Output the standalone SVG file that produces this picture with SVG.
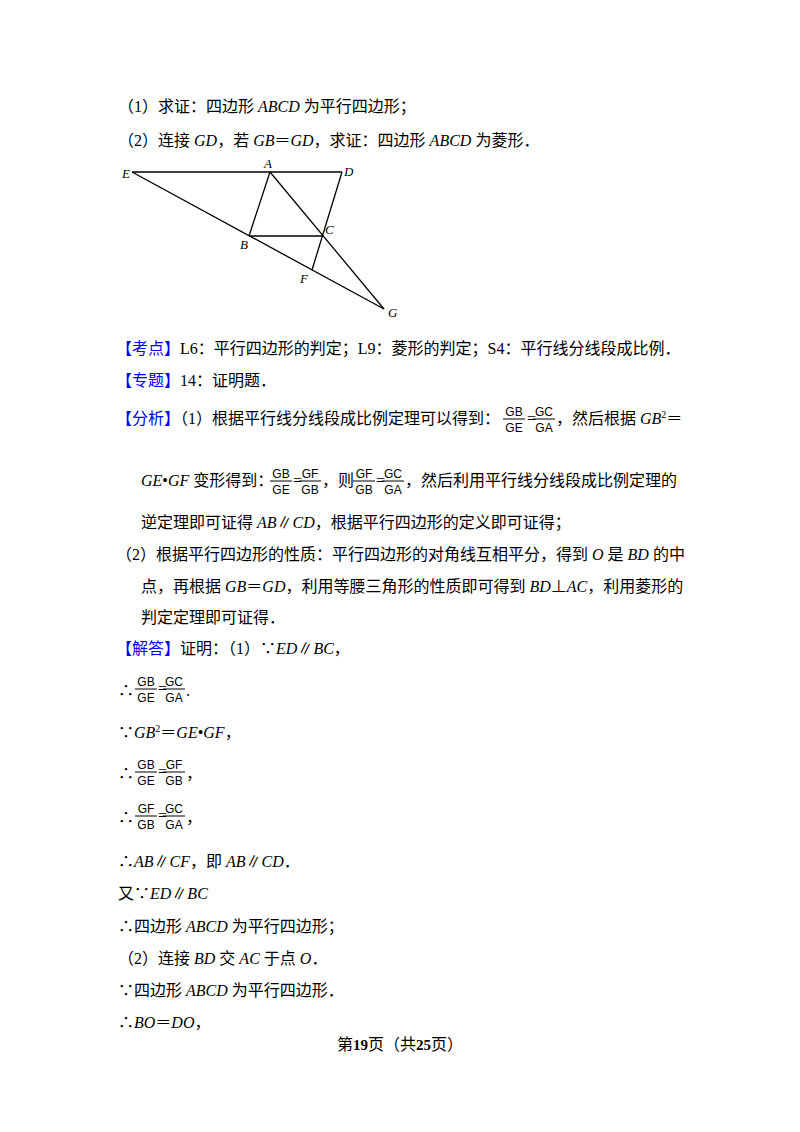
<svg xmlns="http://www.w3.org/2000/svg" width="800" height="1132" viewBox="0 0 800 1132">
<style>
text{font-family:"Liberation Serif","Noto Sans CJK SC",serif;font-size:16px;fill:#000}
.i{font-style:italic}
.b{fill:#0000ff}
.f{font-family:"Liberation Sans","Noto Sans CJK SC",sans-serif;font-size:12px;text-anchor:middle}
.lbl{font-style:italic;font-size:13px}
.bar{stroke:#000;stroke-width:1}
.ln{stroke:#000;stroke-width:1.3;fill:none}
</style>
<rect width="800" height="1132" fill="#fff"/>
<defs>
<g id="fGBGE"><text class="f" x="12" y="-3">GB</text><line class="bar" x1="1" y1="0" x2="23" y2="0"/><text class="f" x="12" y="13">GE</text></g>
<g id="fGCGA"><text class="f" x="12" y="-3">GC</text><line class="bar" x1="1" y1="0" x2="23" y2="0"/><text class="f" x="12" y="13">GA</text></g>
<g id="fGFGB"><text class="f" x="12" y="-3">GF</text><line class="bar" x1="1" y1="0" x2="23" y2="0"/><text class="f" x="12" y="13">GB</text></g>
</defs>
<text x="118" y="112">（1）求证：四边形 <tspan class="i">ABCD</tspan> 为平行四边形；</text>
<text x="118" y="146">（2）连接 <tspan class="i">GD</tspan>，若 <tspan class="i">GB</tspan>＝<tspan class="i">GD</tspan>，求证：四边形 <tspan class="i">ABCD</tspan> 为菱形．</text>
<g id="figure">
<g id="connectors">
<line class="ln" x1="132" y1="172" x2="342" y2="172"/>
<line class="ln" x1="132" y1="172" x2="384" y2="309"/>
<line class="ln" x1="270" y1="172" x2="249" y2="236"/>
<line class="ln" x1="249" y1="236" x2="322" y2="236"/>
<line class="ln" x1="342" y1="172" x2="312" y2="270"/>
<line class="ln" x1="270" y1="172" x2="384" y2="309"/>
</g>
<g id="labels">
<text class="lbl" x="122" y="178">E</text>
<text class="lbl" x="264" y="168">A</text>
<text class="lbl" x="344" y="176">D</text>
<text class="lbl" x="240" y="249">B</text>
<text class="lbl" x="325" y="234">C</text>
<text class="lbl" x="300" y="283">F</text>
<text class="lbl" x="388" y="317">G</text>
</g>
</g>
<text x="116" y="354"><tspan class="b">【考点】</tspan>L6：平行四边形的判定；L9：菱形的判定；S4：平行线分线段成比例．</text>
<text x="116" y="386"><tspan class="b">【专题】</tspan>14：证明题．</text>
<text x="116" y="424"><tspan class="b">【分析】</tspan>（1）根据平行线分线段成比例定理可以得到：</text>
<use href="#fGBGE" x="502" y="419"/><text x="527" y="424" font-size="12">=</text><use href="#fGCGA" x="532" y="419"/>
<text x="556" y="424">，然后根据 <tspan class="i">GB</tspan><tspan font-size="10" dy="-6">2</tspan><tspan dy="6">＝</tspan></text>
<text x="141" y="486"><tspan class="i">GE</tspan>•<tspan class="i">GF</tspan> 变形得到：</text>
<use href="#fGBGE" x="269" y="481"/><text x="293" y="486" font-size="12">=</text><use href="#fGFGB" x="298" y="481"/>
<text x="322" y="486">，则</text>
<use href="#fGFGB" x="352" y="481"/><text x="376" y="486" font-size="12">=</text><use href="#fGCGA" x="381" y="481"/>
<text x="405" y="486">，然后利用平行线分线段成比例定理的</text>
<text x="141" y="528">逆定理即可证得 <tspan class="i">AB</tspan>∥<tspan class="i">CD</tspan>，根据平行四边形的定义即可证得；</text>
<text x="116" y="560">（2）根据平行四边形的性质：平行四边形的对角线互相平分，得到 <tspan class="i">O</tspan> 是 <tspan class="i">BD</tspan> 的中</text>
<text x="141" y="592">点，再根据 <tspan class="i">GB</tspan>＝<tspan class="i">GD</tspan>，利用等腰三角形的性质即可得到 <tspan class="i">BD</tspan>⊥<tspan class="i">AC</tspan>，利用菱形的</text>
<text x="141" y="623">判定定理即可证得．</text>
<text x="116" y="654"><tspan class="b">【解答】</tspan>证明：（1）∵<tspan class="i">ED</tspan>∥<tspan class="i">BC</tspan>，</text>
<text x="118" y="696">∴</text><use href="#fGBGE" x="134" y="689"/><text x="158" y="694" font-size="12">=</text><use href="#fGCGA" x="162" y="689"/><text x="186" y="696">.</text>
<text x="118" y="738">∵<tspan class="i">GB</tspan><tspan font-size="10" dy="-6">2</tspan><tspan dy="6">＝</tspan><tspan class="i">GE</tspan>•<tspan class="i">GF</tspan>，</text>
<text x="118" y="779">∴</text><use href="#fGBGE" x="134" y="772"/><text x="158" y="777" font-size="12">=</text><use href="#fGFGB" x="162" y="772"/><text x="186" y="779">，</text>
<text x="118" y="823">∴</text><use href="#fGFGB" x="134" y="816"/><text x="158" y="821" font-size="12">=</text><use href="#fGCGA" x="162" y="816"/><text x="186" y="823">，</text>
<text x="118" y="867">∴<tspan class="i">AB</tspan>∥<tspan class="i">CF</tspan>，即 <tspan class="i">AB</tspan>∥<tspan class="i">CD</tspan>．</text>
<text x="118" y="899">又∵<tspan class="i">ED</tspan>∥<tspan class="i">BC</tspan></text>
<text x="118" y="932">∴四边形 <tspan class="i">ABCD</tspan> 为平行四边形；</text>
<text x="118" y="964">（2）连接 <tspan class="i">BD</tspan> 交 <tspan class="i">AC</tspan> 于点 <tspan class="i">O</tspan>．</text>
<text x="118" y="996">∵四边形 <tspan class="i">ABCD</tspan> 为平行四边形．</text>
<text x="118" y="1028">∴<tspan class="i">BO</tspan>＝<tspan class="i">DO</tspan>，</text>
<text x="400" y="1050" font-size="13" text-anchor="middle">第<tspan font-weight="bold" font-size="15">19</tspan>页（共<tspan font-weight="bold" font-size="15">25</tspan>页）</text>
</svg>
